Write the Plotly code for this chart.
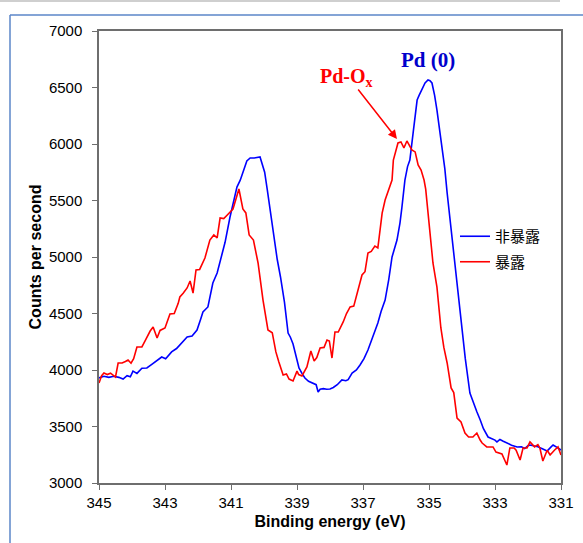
import plotly.graph_objects as go

# ---- data ----
blue_E = [345.0, 344.85, 344.7, 344.55, 344.4, 344.27, 344.15, 344.05, 343.97, 343.85, 343.7, 343.55,
          343.4, 343.25, 343.1, 342.98, 342.8, 342.65, 342.5, 342.33, 342.18, 342.03, 341.92, 341.85,
          341.7, 341.55, 341.42, 341.3, 341.18, 341.03, 340.9, 340.82, 340.72, 340.64, 340.52, 340.42,
          340.3, 340.12, 339.98, 339.9, 339.8, 339.7, 339.6, 339.5, 339.38, 339.27, 339.2, 339.12,
          339.03, 338.94, 338.85, 338.76, 338.65, 338.52, 338.42, 338.36, 338.3, 338.2, 338.1, 338.0,
          337.9, 337.78, 337.64, 337.52, 337.45, 337.33, 337.2, 337.09, 336.97, 336.85, 336.7, 336.55,
          336.45, 336.33, 336.22, 336.12, 335.97, 335.88, 335.82, 335.73, 335.65, 335.58, 335.48, 335.4,
          335.36, 335.3, 335.27, 335.2, 335.12, 335.03, 334.97, 334.91, 334.83, 334.76, 334.68, 334.6,
          334.52, 334.45, 334.36, 334.27, 334.15, 334.0, 333.9, 333.76, 333.65, 333.55, 333.45, 333.35,
          333.21, 333.1, 333.0, 332.94, 332.85, 332.75, 332.64, 332.5, 332.33, 332.2, 332.1, 332.0,
          331.94, 331.85, 331.7, 331.55, 331.42, 331.3, 331.24, 331.12, 331.0]
blue_C = [3930, 3945, 3935, 3945, 3935, 3920, 3950, 3940, 3990, 3970, 4015, 4018,
          4050, 4085, 4115, 4100, 4160, 4190, 4235, 4292, 4300, 4354, 4450, 4513,
          4558, 4770, 4858, 5000, 5130, 5354, 5530, 5619, 5680, 5743, 5850, 5876,
          5876, 5885, 5750, 5593, 5380, 5150, 4980, 4823, 4600, 4327, 4290, 4230,
          4120, 4018, 3970, 3929, 3900, 3885, 3870, 3805, 3830, 3835, 3830, 3832,
          3845, 3870, 3912, 3905, 3915, 3973, 4000, 4044, 4100, 4177, 4290, 4416,
          4520, 4619, 4800, 5000, 5150, 5300, 5442, 5681, 5800, 5858, 6100, 6300,
          6389, 6430, 6451, 6500, 6540, 6566, 6560, 6540, 6430, 6301, 6140, 5973,
          5780, 5566, 5330, 5088, 4750, 4327, 4100, 3796, 3700, 3630, 3560, 3480,
          3407, 3390, 3380, 3363, 3385, 3370, 3354, 3335, 3319, 3320, 3305, 3330,
          3336, 3330, 3320, 3300, 3283, 3320, 3336, 3315, 3292]

red_E = [345.0, 344.92, 344.85, 344.75, 344.65, 344.5, 344.42, 344.3, 344.2, 344.12, 344.03, 343.95,
         343.85, 343.7, 343.6, 343.45, 343.36, 343.24, 343.15, 343.0, 342.85, 342.72, 342.6, 342.55,
         342.45, 342.33, 342.24, 342.15, 342.06, 341.95, 341.79, 341.64, 341.52, 341.42, 341.33, 341.22,
         341.12, 341.03, 340.94, 340.76, 340.64, 340.55, 340.45, 340.32, 340.18, 340.03, 339.88, 339.75,
         339.64, 339.55, 339.42, 339.32, 339.24, 339.12, 339.0, 338.95, 338.85, 338.7, 338.58, 338.48,
         338.4, 338.3, 338.18, 338.09, 338.02, 337.94, 337.85, 337.75, 337.6, 337.5, 337.39, 337.28,
         337.15, 337.03, 336.94, 336.85, 336.75, 336.64, 336.55, 336.42, 336.33, 336.22, 336.12, 336.08,
         335.94, 335.85, 335.76, 335.67, 335.58, 335.52, 335.42, 335.33, 335.24, 335.15, 335.1, 335.0,
         334.88, 334.76, 334.64, 334.55, 334.45, 334.33, 334.25, 334.15, 334.03, 333.91, 333.8, 333.67,
         333.55, 333.45, 333.39, 333.25, 333.06, 332.97, 332.79, 332.64, 332.55, 332.42, 332.36, 332.24,
         332.15, 332.03, 331.94, 331.8, 331.7, 331.64, 331.55, 331.42, 331.33, 331.2, 331.09, 331.0]
red_C = [3885, 3950, 3973, 3960, 3972, 3938, 4062, 4062, 4075, 4088, 4060, 4100,
         4204, 4204, 4260, 4345, 4380, 4283, 4350, 4372, 4496, 4500, 4590, 4646,
         4680, 4726, 4788, 4681, 4885, 4890, 4991, 5150, 5195, 5170, 5345, 5340,
         5370, 5400, 5425, 5602, 5425, 5390, 5195, 5150, 4947, 4619, 4354, 4330,
         4160, 4071, 3956, 3965, 3920, 3903, 3990, 3960, 3947, 4027, 4168, 4080,
         4110, 4195, 4200, 4265, 4257, 4106, 4336, 4336, 4425, 4500, 4558, 4565,
         4708, 4841, 4870, 5035, 5050, 5097, 5080, 5389, 5504, 5600, 5681, 5858,
         6009, 6018, 5965, 6027, 5980, 5947, 5930, 5814, 5770, 5681, 5600, 5300,
         4947, 4735, 4372, 4200, 4062, 3841, 3800, 3575, 3540, 3442, 3407, 3407,
         3442, 3380, 3354, 3320, 3319, 3274, 3257, 3159, 3310, 3310, 3290, 3204,
         3310, 3310, 3363, 3320, 3340, 3310, 3195, 3290, 3248, 3290, 3319, 3248]

series_names = ["非暴露", "暴露"]
series_colors = ["#0000FF", "#FF0000"]
x_ticks = [345, 343, 341, 339, 337, 335, 333, 331]
y_ticks = [3000, 3500, 4000, 4500, 5000, 5500, 6000, 6500, 7000]

W, H = 583, 543
L, R, T, B = 99, 22, 31, 60
pw, ph = W - L - R, H - T - B

def px(xp):
    return (xp - L) / pw

def py(yp):
    return (H - B - yp) / ph

fig = go.Figure()
for E, C, name, col, grp in [(blue_E, blue_C, series_names[0], series_colors[0], "a"),
                             (red_E, red_C, series_names[1], series_colors[1], "b")]:
    fig.add_trace(go.Scatter(x=E, y=C, mode="lines", name=name, legendgroup=grp,
                             line=dict(color=col, width=1.6)))

tick_font = dict(family="Liberation Sans, Arial", size=15, color="#000000")
title_font = dict(family="Liberation Sans, Arial", size=16, color="#000000")

fig.update_layout(
    width=W, height=H,
    margin=dict(l=L, r=R, t=T, b=B, autoexpand=False),
    paper_bgcolor="white", plot_bgcolor="white",
    showlegend=True,
    legend=dict(x=px(455), y=py(220), xanchor="left", yanchor="top",
                font=dict(family="Noto Sans CJK SC", size=15, color="#000000"),
                bgcolor="rgba(0,0,0,0)", tracegroupgap=3, traceorder="grouped",
                itemwidth=30),
    xaxis=dict(range=[345, 331], tickvals=x_ticks, ticktext=[str(v) for v in x_ticks],
               showgrid=False, zeroline=False, showline=True, mirror=True, automargin=False,
               linecolor="#6e6e6e", linewidth=1.5, ticks="outside", ticklen=5,
               tickcolor="#6e6e6e", tickfont=tick_font,
               title=dict(text="<b>Binding energy (eV)</b>", font=title_font, standoff=6)),
    yaxis=dict(range=[3000, 7000], tickvals=y_ticks, ticktext=[str(v) for v in y_ticks],
               showgrid=False, zeroline=False, showline=True, mirror=True, automargin=False,
               linecolor="#6e6e6e", linewidth=1.5, ticks="outside", ticklen=5,
               tickcolor="#6e6e6e", tickfont=tick_font, ticklabelstandoff=7,
               title=dict(text="<b>Counts per second</b>", font=title_font, standoff=3)),
    shapes=[
        dict(type="line", xref="paper", yref="paper", x0=px(0), x1=px(560), y0=py(1), y1=py(1),
             line=dict(color="#cfcfcf", width=2)),
        dict(type="line", xref="paper", yref="paper", x0=px(10), x1=px(583), y0=py(15), y1=py(15),
             line=dict(color="#5b86c8", width=1.5)),
        dict(type="line", xref="paper", yref="paper", x0=px(10), x1=px(10), y0=py(15), y1=py(543),
             line=dict(color="#5b86c8", width=1.5)),
    ],
    annotations=[
        dict(x=335.03, y=6743, xref="x", yref="y", text="<b>Pd (0)</b>", showarrow=False,
             font=dict(family="Liberation Serif", size=21, color="#0000CC")),
        dict(x=337.5, y=6585, xref="x", yref="y", text="<b>Pd-O<sub>x</sub></b>", showarrow=False,
             font=dict(family="Liberation Serif", size=20, color="#FF0000")),
        dict(x=335.97, y=6044, xref="x", yref="y", text="", showarrow=True,
             ax=-40, ay=-51, arrowhead=2, arrowsize=1.2, arrowwidth=1.5, arrowcolor="#FF0000"),
    ],
)

fig.write_html("out.html")
